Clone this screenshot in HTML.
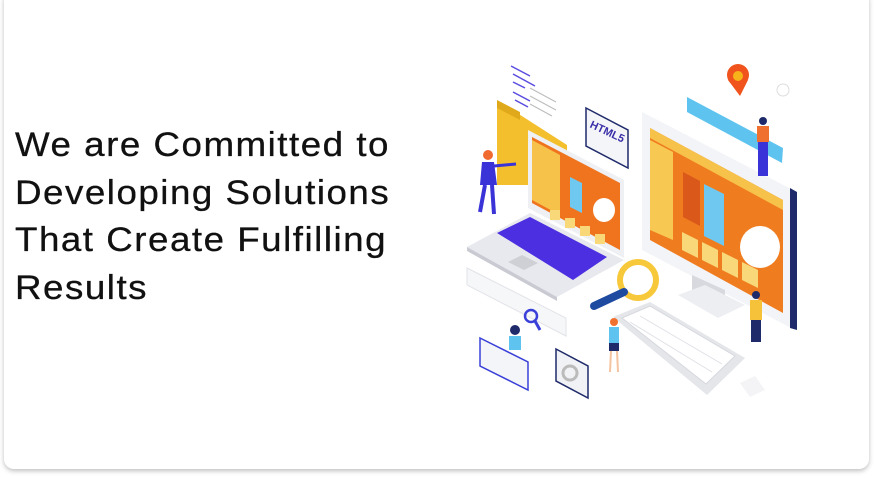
<!DOCTYPE html>
<html><head><meta charset="utf-8"><style>
html,body{margin:0;padding:0;background:#fff;width:874px;height:478px;overflow:hidden}
.card{position:absolute;left:4px;top:-10px;width:865px;height:479px;background:#fff;border-radius:10px;box-shadow:0 2px 5px rgba(0,0,0,0.25)}
h1{position:absolute;left:15px;top:122px;margin:0;font-family:"Liberation Sans",sans-serif;font-weight:normal;font-size:34px;line-height:47.5px;color:#111;letter-spacing:1.4px;white-space:nowrap;transform:scaleX(1.08);transform-origin:0 0;-webkit-text-stroke:0.3px #111}
svg{position:absolute;left:0;top:0}
</style></head><body>
<div class="card"></div>
<h1>We are Committed to<br>Developing Solutions<br>That Create Fulfilling<br>Results</h1>
<svg width="874" height="478" viewBox="0 0 874 478">
<g stroke="#5a4de0" stroke-width="1.5">
<line x1="511" y1="66" x2="530" y2="76"/><line x1="513" y1="74" x2="535" y2="86"/><line x1="513" y1="82" x2="525" y2="88"/><line x1="513" y1="92" x2="530" y2="101"/><line x1="515" y1="100" x2="528" y2="107"/>
</g>
<g stroke="#bbb" stroke-width="1"><line x1="530" y1="88" x2="556" y2="102"/><line x1="530" y1="96" x2="556" y2="110"/><line x1="530" y1="104" x2="552" y2="116"/></g>
<polygon points="497,100 567,145 567,185 497,185" fill="#f3bf2c"/>
<polygon points="497,100 520,112 520,120 497,108" fill="#e0a91c"/>
<polygon points="586,108 628,130 628,168 586,146" fill="#f4f5f8" stroke="#1e2a6a" stroke-width="1.5"/>
<text x="589" y="132" font-family="Liberation Sans,sans-serif" font-size="11" font-weight="bold" fill="#3a2fa8" transform="rotate(25 600 130)">HTML5</text>
<polygon points="528,130 624,180 624,258 528,208" fill="#eef0f4"/>
<polygon points="532,137 620,183 620,250 532,203" fill="#f0741e"/>
<polygon points="532,140 560,155 560,215 532,200" fill="#f6c24a"/>
<polygon points="570,177 582,183 582,213 570,207" fill="#6fc8f0"/>
<ellipse cx="604" cy="210" rx="11" ry="12" fill="#fff"/>
<g fill="#f8d878"><rect x="550" y="210" width="10" height="10"/><rect x="565" y="218" width="10" height="10"/><rect x="580" y="226" width="10" height="10"/><rect x="595" y="234" width="10" height="10"/></g>
<polygon points="467,247 530,213 624,260 557,297" fill="#e8e9ee"/>
<polygon points="467,247 557,297 557,301 467,251" fill="#c9cad2"/>
<polygon points="497,233 530,217 607,257 573,280" fill="#4b2fe0"/>
<polygon points="508,262 522,255 538,263 524,270" fill="#cfd0d6"/>
<polygon points="642,112 793,190 795,330 642,250" fill="#f3f4f7"/>
<polygon points="790,188 797,192 797,330 790,328" fill="#1e2a6a"/>
<polygon points="650,128 783,200 783,313 650,240" fill="#f07c20"/>
<polygon points="650,128 783,200 783,210 650,138" fill="#f6c24a"/>
<polygon points="650,140 673,152 673,240 650,230" fill="#f7c852"/>
<polygon points="683,172 700,181 700,226 683,217" fill="#d9581a"/>
<polygon points="704,184 724,194 724,246 704,236" fill="#6fc8f0"/>
<ellipse cx="760" cy="247" rx="20" ry="21" fill="#fff"/>
<g fill="#f8d878"><polygon points="682,232 698,240 698,258 682,250"/><polygon points="702,242 718,250 718,268 702,260"/><polygon points="722,252 738,260 738,278 722,270"/><polygon points="742,262 758,270 758,288 742,280"/></g>
<polygon points="692,275 725,290 725,305 692,292" fill="#d8d9de"/>
<polygon points="678,295 705,285 745,305 718,318" fill="#eceef2"/>
<polygon points="687,97 783,148 782,163 687,112" fill="#5ec4ef"/>
<circle cx="738" cy="75" r="11" fill="#f0541c"/>
<polygon points="728,80 748,80 740,96" fill="#f0541c"/>
<circle cx="738" cy="76" r="5" fill="#f6b41a"/>
<circle cx="783" cy="90" r="6" fill="#fff" stroke="#ddd"/>
<circle cx="638" cy="280" r="18" fill="none" stroke="#f6c83a" stroke-width="6"/>
<line x1="624" y1="292" x2="594" y2="306" stroke="#1e4aa0" stroke-width="8" stroke-linecap="round"/>
<polygon points="613,317 650,302 745,358 707,395" fill="#e4e6ea"/>
<polygon points="622,318 650,306 735,356 706,384" fill="#fff" stroke="#d6d8de" stroke-width="1"/>
<g stroke="#dfe1e6" stroke-width="1"><line x1="630" y1="322" x2="712" y2="372"/><line x1="640" y1="316" x2="722" y2="364"/></g>
<polygon points="740,383 755,376 765,390 750,397" fill="#f4f4f6"/>
<polygon points="467,268 566,318 566,336 467,285" fill="#f6f7f9" stroke="#e2e3e8"/>
<circle cx="531" cy="316" r="6" fill="none" stroke="#3a40d8" stroke-width="2.5"/>
<line x1="535" y1="321" x2="540" y2="330" stroke="#3a40d8" stroke-width="3"/>
<polygon points="480,338 528,362 528,390 480,366" fill="#f4f5f8" stroke="#3a40d8" stroke-width="1.5"/>
<polygon points="556,349 588,366 588,398 556,381" fill="#f1f2f5" stroke="#1e2a6a" stroke-width="1.5"/>
<circle cx="570" cy="373" r="7" fill="none" stroke="#bbb" stroke-width="3"/>
<g>
<circle cx="488" cy="155" r="5" fill="#f06a30"/>
<polygon points="482,162 494,162 497,185 480,185" fill="#3a33d8"/>
<line x1="494" y1="166" x2="516" y2="164" stroke="#3a33d8" stroke-width="3"/>
<line x1="485" y1="185" x2="480" y2="212" stroke="#3a33d8" stroke-width="4"/>
<line x1="492" y1="185" x2="494" y2="214" stroke="#3a33d8" stroke-width="4"/>
<circle cx="763" cy="121" r="4" fill="#1e2a6a"/>
<rect x="757" y="126" width="12" height="16" fill="#f07030"/>
<rect x="758" y="142" width="10" height="34" fill="#3a33d8"/>
<circle cx="756" cy="295" r="4" fill="#1e2a6a"/>
<rect x="750" y="300" width="12" height="20" fill="#f6c23a"/>
<rect x="751" y="320" width="10" height="22" fill="#1e2a6a"/>
<circle cx="614" cy="322" r="4" fill="#f07030"/>
<rect x="609" y="327" width="10" height="16" fill="#5ec4ef"/>
<rect x="609" y="343" width="10" height="8" fill="#1e2a6a"/>
<line x1="611" y1="351" x2="610" y2="372" stroke="#f5c4a0" stroke-width="2"/><line x1="617" y1="351" x2="618" y2="372" stroke="#f5c4a0" stroke-width="2"/>
<circle cx="515" cy="330" r="5" fill="#1e2a6a"/>
<rect x="509" y="336" width="12" height="14" fill="#5ec4ef"/>
</g>
</svg>
</body></html>
